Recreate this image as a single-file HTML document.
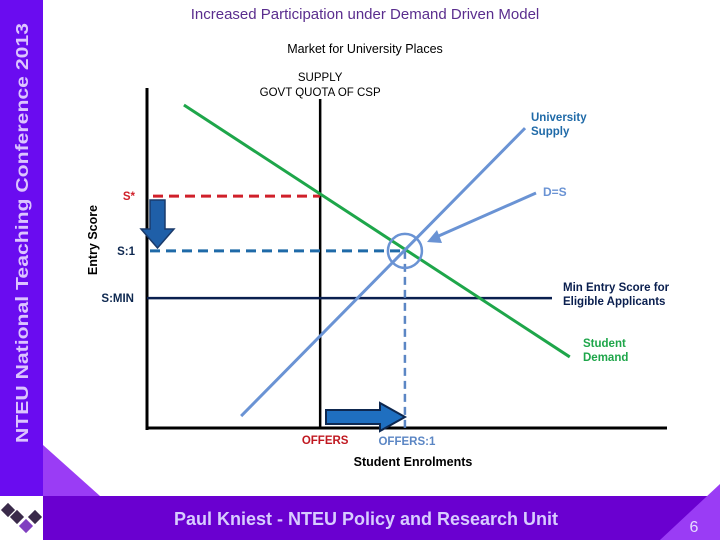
<!DOCTYPE html>
<html><head><meta charset="utf-8"><style>
html,body{margin:0;padding:0;width:720px;height:540px;overflow:hidden;background:#fff;font-family:"Liberation Sans",sans-serif}
svg{display:block}
</style></head><body>
<svg id="chart" width="720" height="540" viewBox="0 0 720 540" xmlns="http://www.w3.org/2000/svg">
<rect x="0" y="0" width="43" height="496" fill="#6a0cf0"/>
<polygon points="43,445 43,496 100,496" fill="#9a3cf5"/>
<rect x="0" y="496" width="720" height="44" fill="#6a00d0"/>
<polygon points="720,484 720,540 660,540" fill="#9a3cf5"/>
<rect x="0" y="496" width="43" height="44" fill="#fff"/>
<g fill="#3a2a4a">
<rect x="3" y="505" width="10" height="10" transform="rotate(45 8 510)"/>
<rect x="12" y="512" width="10" height="10" transform="rotate(45 17 517)"/>
<rect x="21" y="521" width="10" height="10" transform="rotate(45 26 526)" fill="#8040c0"/>
<rect x="30" y="512" width="10" height="10" transform="rotate(45 35 517)"/>
</g>
<text transform="translate(28,233) rotate(-90)" text-anchor="middle" font-size="17.5" font-weight="bold" fill="#dcc4ff" textLength="420" lengthAdjust="spacingAndGlyphs">NTEU National Teaching Conference 2013</text>
<text x="365" y="19" text-anchor="middle" font-size="15" fill="#5a2d8e">Increased Participation under Demand  Driven Model</text>
<text x="365" y="53" text-anchor="middle" font-size="12.5" fill="#000">Market for University Places</text>
<text x="366" y="525" text-anchor="middle" font-size="18" font-weight="bold" fill="#d8ccff">Paul Kniest  - NTEU Policy and Research Unit</text>
<text x="694" y="532" text-anchor="middle" font-size="16" fill="#e6dcff">6</text>
<text transform="translate(97,240) rotate(-90)" text-anchor="middle" font-size="12.5" font-weight="bold" fill="#000">Entry Score</text>
<text x="413" y="466" text-anchor="middle" font-size="12.5" font-weight="bold" fill="#000">Student Enrolments</text>
<g id="plot"></g>
</svg>
<script>
// data-space 0..100 on both axes
const demandCurve = [[7.1,95],[81.3,20.9]];
const supplyCurve = [[18.1,3.5],[72.7,88.2]];
const quotaX = 33.3;
const scoreLevels = [68.2, 52.1, 38.2];      // S*, S:1, S:MIN
const scoreLabels = ["S*","S:1","S:MIN"];
const offersX = [33.3, 49.6];
const offersLabels = ["OFFERS","OFFERS:1"];

const X0=147, X1=667, Y0=428, Y1=88;
function xs(v){return X0+(X1-X0)*v/100;}
function ys(v){return Y0-(Y0-Y1)*v/100;}

const NS="http://www.w3.org/2000/svg";
const plot=document.getElementById('plot');
function mk(tag,attrs,name,txt){
  const e=document.createElementNS(NS,tag);
  for(const k in attrs)e.setAttribute(k,attrs[k]);
  
  
  if(txt!==undefined)e.textContent=txt;
  plot.appendChild(e);return e;
}
mk('line',{x1:X0,y1:Y1,x2:X0,y2:Y0+2,stroke:'#000','stroke-width':3},'y-axis');
mk('line',{x1:X0,y1:Y0,x2:X1,y2:Y0,stroke:'#000','stroke-width':3},'x-axis');
mk('line',{x1:xs(quotaX),y1:99,x2:xs(quotaX),y2:Y0,stroke:'#000','stroke-width':2.5},'govt-quota-line');
mk('text',{x:xs(quotaX),y:81,'text-anchor':'middle','font-size':11.5,fill:'#000'},'supply-label','SUPPLY');
mk('text',{x:xs(quotaX),y:96,'text-anchor':'middle','font-size':11.5,fill:'#000'},'quota-label','GOVT QUOTA OF CSP');
mk('line',{x1:X0,y1:ys(scoreLevels[2]),x2:552,y2:ys(scoreLevels[2]),stroke:'#0a1f4f','stroke-width':2.5},'s-min-line');
mk('line',{x1:153,y1:ys(scoreLevels[0]),x2:xs(quotaX),y2:ys(scoreLevels[0]),stroke:'#d0202a','stroke-width':3,'stroke-dasharray':'10,6'},'s-star-line');
mk('line',{x1:150,y1:ys(scoreLevels[1]),x2:xs(offersX[1]),y2:ys(scoreLevels[1]),stroke:'#1f6aa8','stroke-width':3,'stroke-dasharray':'10,6'},'s1-line');
mk('line',{x1:xs(offersX[1]),y1:ys(scoreLevels[1]),x2:xs(offersX[1]),y2:Y0,stroke:'#5b86c4','stroke-width':2.5,'stroke-dasharray':'8,5'},'offers1-line');
mk('line',{x1:xs(demandCurve[0][0]),y1:ys(demandCurve[0][1]),x2:xs(demandCurve[1][0]),y2:ys(demandCurve[1][1]),stroke:'#1ea64a','stroke-width':3},'demand-curve');
mk('line',{x1:xs(supplyCurve[0][0]),y1:ys(supplyCurve[0][1]),x2:xs(supplyCurve[1][0]),y2:ys(supplyCurve[1][1]),stroke:'#6a93d4','stroke-width':3},'supply-curve');
mk('circle',{cx:xs(offersX[1]),cy:ys(scoreLevels[1]),r:17,fill:'none',stroke:'#6a93d4','stroke-width':2.5},'equilibrium-circle');
mk('line',{x1:536,y1:193,x2:434,y2:238,stroke:'#6a93d4','stroke-width':3},'d-s-arrow');
mk('polygon',{points:'427,242 437,230 442,243',fill:'#6a93d4'},'d-s-arrowhead');
mk('polygon',{points:'150,200 165,200 165,229 174,229 157.5,248 141,229 150,229',fill:'#1f5fa8',stroke:'#1a3a6a','stroke-width':1.5},'down-arrow');
mk('polygon',{points:'326,410 380,410 380,403 405,417 380,431 380,424 326,424',fill:'#1f6fc0',stroke:'#0e2850','stroke-width':2},'right-arrow');
const lblColors=['#d0202a','#0e2850','#0e2850'];
const lblX=[135,135,134];
scoreLevels.forEach((v,i)=>{
  mk('text',{x:lblX[i],y:ys(v)+4,'text-anchor':'end','font-size':11.5,'font-weight':'bold',fill:lblColors[i]},'y-label-'+i,scoreLabels[i]);
});
mk('text',{x:xs(offersX[0])+5,y:444,'text-anchor':'middle','font-size':11.5,'font-weight':'bold',fill:'#c01820'},'offers-label',offersLabels[0]);
mk('text',{x:xs(offersX[1])+2,y:445,'text-anchor':'middle','font-size':11.5,'font-weight':'bold',fill:'#5b86c4'},'offers1-label',offersLabels[1]);
mk('text',{x:531,y:121,'font-size':11.5,'font-weight':'bold',fill:'#1f6aa8'},'university-supply-label','University');
mk('text',{x:531,y:135,'font-size':11.5,'font-weight':'bold',fill:'#1f6aa8'},'university-supply-label-2','Supply');
mk('text',{x:543,y:196,'font-size':12,'font-weight':'bold',fill:'#6a93d4'},'d-s-label','D=S');
mk('text',{x:563,y:291,'font-size':11.5,'font-weight':'bold',fill:'#0a1f4f'},'min-entry-label','Min Entry Score for');
mk('text',{x:563,y:305,'font-size':11.5,'font-weight':'bold',fill:'#0a1f4f'},'min-entry-label-2','Eligible Applicants');
mk('text',{x:583,y:347,'font-size':11.5,'font-weight':'bold',fill:'#1ea64a'},'student-demand-label','Student');
mk('text',{x:583,y:361,'font-size':11.5,'font-weight':'bold',fill:'#1ea64a'},'student-demand-label-2','Demand');
</script>
</body></html>
